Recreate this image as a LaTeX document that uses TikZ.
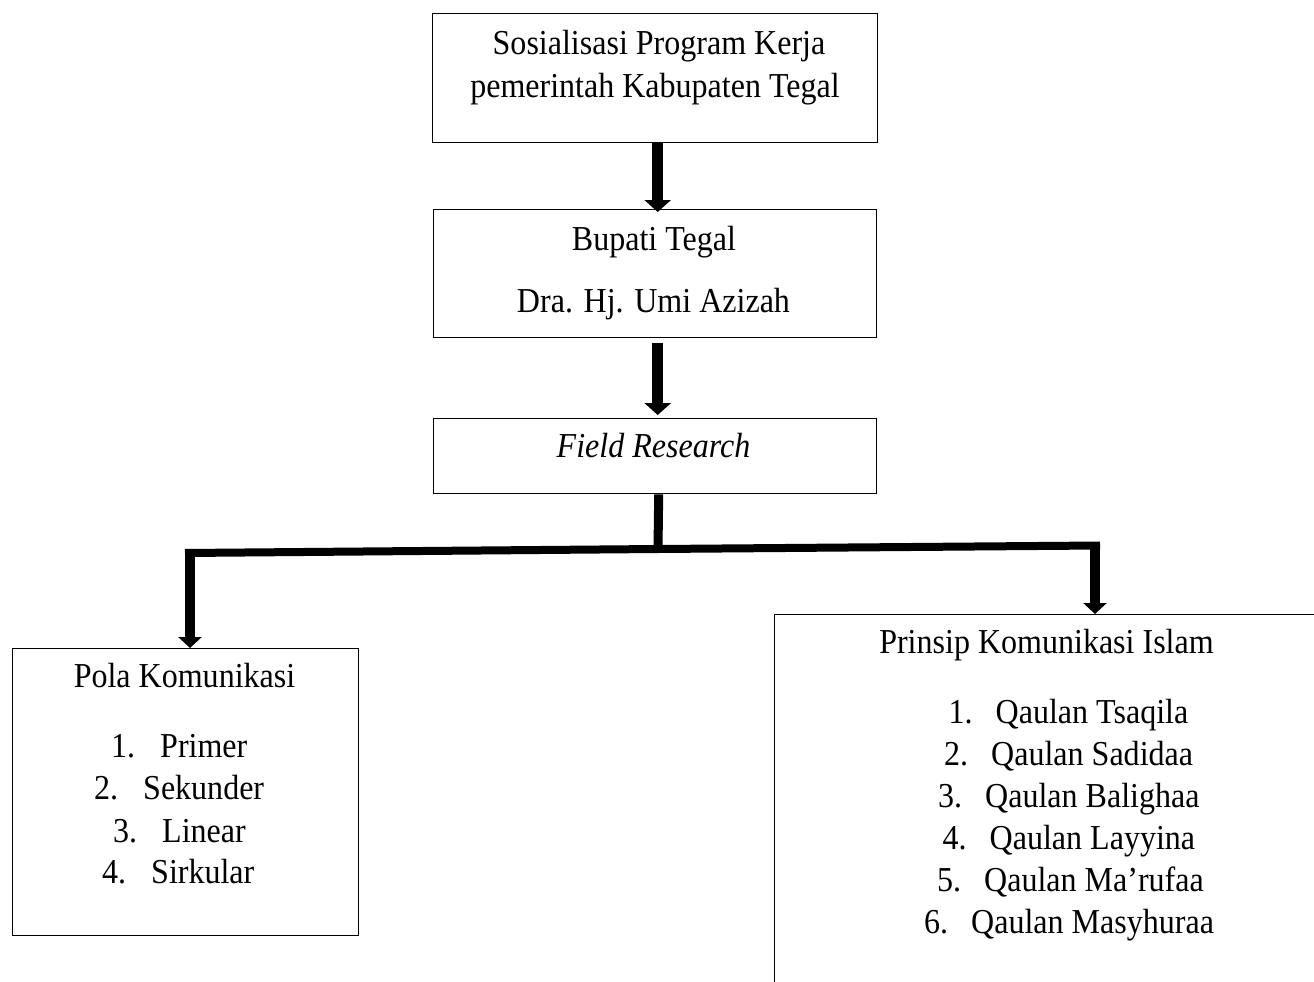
\documentclass[tikz,border=0pt]{standalone}
\usepackage{fontspec}
\setmainfont{Liberation Serif}[FakeStretch=0.915]
\usetikzlibrary{arrows.meta}
\begin{document}
\begin{tikzpicture}[x=1pt,y=-1pt,
  box/.style={draw=black, line width=1.4pt, rectangle, inner sep=0pt, anchor=north west},
  txt/.style={anchor=base, inner sep=0pt, font=\fontsize{35}{42}\selectfont},
  item/.style={anchor=base west, inner sep=0pt, font=\fontsize{35}{42}\selectfont},
  bigtip/.style={-{Triangle[width=26pt,length=12pt]}},
  smalltip/.style={-{Triangle[width=23pt,length=11pt]}},
]
\useasboundingbox (0,0) rectangle (1314,982);
\fill[white] (0,0) rectangle (1314,982);
\clip (0,0) rectangle (1314,982);

% boxes
\node[box, minimum width=445pt, minimum height=129pt] (b1) at (432,13) {};
\node[box, minimum width=443pt, minimum height=128pt] (b2) at (433,209) {};
\node[box, minimum width=443pt, minimum height=75pt] (b3) at (433,418) {};
\node[box, minimum width=346pt, minimum height=287pt] (b4) at (12,648) {};
\node[box, minimum width=545pt, minimum height=400pt] (b5) at (774,614) {};

% texts
\node[txt] (t1a) at (659,55) {Sosialisasi Program Kerja};
\node[txt] (t1b) at (655,97) {pemerintah Kabupaten Tegal};
\node[txt] (t2a) at (654,250) {Bupati Tegal};
\node[txt] (t2b) at (653.5,312) {Dra. Hj. Umi Azizah};
\node[txt] (t3) at (653.5,457) {\itshape Field Research};

\node[txt] (t4) at (184.5,687) {Pola Komunikasi};
\node[item] (l1) at (111,757) {1.\hspace{25pt}Primer};
\node[item] (l2) at (94,799) {2.\hspace{25pt}Sekunder};
\node[item] (l3) at (113,842) {3.\hspace{25pt}Linear};
\node[item] (l4) at (102,883) {4.\hspace{25pt}Sirkular};

\node[txt] (t5) at (1046.5,653) {Prinsip Komunikasi Islam};
\node[item] (r1) at (948.5,723) {1.\hspace{23pt}Qaulan Tsaqila};
\node[item] (r2) at (944,765) {2.\hspace{23pt}Qaulan Sadidaa};
\node[item] (r3) at (938,807) {3.\hspace{23pt}Qaulan Balighaa};
\node[item] (r4) at (942.5,849) {4.\hspace{23pt}Qaulan Layyina};
\node[item] (r5) at (937,891) {5.\hspace{23pt}Qaulan Ma’rufaa};
\node[item] (r6) at (924,933) {6.\hspace{23pt}Qaulan Masyhuraa};

% connectors
\coordinate (jl) at (190,553);
\coordinate (jr) at (1095,545.5);
\coordinate (jm) at (658,549);

\draw[line width=11pt, bigtip] ([xshift=2.5pt]b1.south) -- ([xshift=2.5pt,yshift=-3pt]b2.north);
\draw[line width=11pt, bigtip, shorten <=5pt, shorten >=3pt] ([xshift=2.5pt]b2.south) -- ([xshift=2.5pt]b3.north);
\draw[line width=9pt] ([xshift=3.5pt]b3.south) -- (jm);
\draw[line width=8pt] ([xshift=-5pt]jl) -- (jm) -- ([xshift=5pt]jr);
\draw[line width=10pt, smalltip] ([yshift=4pt]jl) -- (jl |- b4.north);
\draw[line width=10pt, smalltip] ([yshift=4pt]jr) -- (jr |- b5.north);
\end{tikzpicture}
\end{document}
